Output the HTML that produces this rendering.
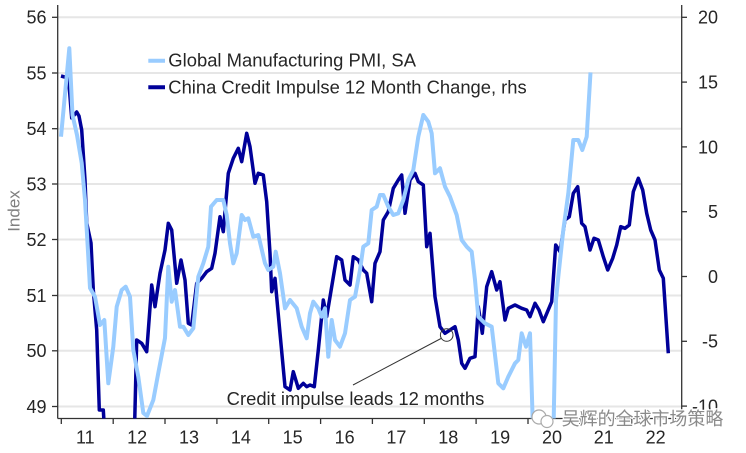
<!DOCTYPE html>
<html>
<head>
<meta charset="utf-8">
<style>
html,body{margin:0;padding:0;background:#fff;}
svg{display:block;}
text{font-family:"Liberation Sans","Noto Sans CJK SC",sans-serif;}
</style>
</head>
<body>
<svg width="746" height="453" viewBox="0 0 746 453" xmlns="http://www.w3.org/2000/svg">
<rect width="746" height="453" fill="#fff"/>
<defs>
<clipPath id="pc"><rect x="58" y="4" width="624" height="414.5"/></clipPath>
</defs>
<!-- gridlines -->
<g stroke="#e6e6e6" stroke-width="2">
<line x1="58" y1="17.3" x2="681" y2="17.3"/>
<line x1="58" y1="73" x2="681" y2="73"/>
<line x1="58" y1="128.7" x2="681" y2="128.7"/>
<line x1="58" y1="184" x2="681" y2="184"/>
<line x1="58" y1="239.5" x2="681" y2="239.5"/>
<line x1="58" y1="295.5" x2="681" y2="295.5"/>
<line x1="58" y1="350.8" x2="681" y2="350.8"/>
<line x1="58" y1="406.5" x2="681" y2="406.5"/>
</g>
<!-- axes -->
<g stroke="#333" stroke-width="1.3" fill="none">
<line x1="57.7" y1="5" x2="57.7" y2="418.5"/>
<line x1="681.7" y1="5" x2="681.7" y2="418.5"/>
<line x1="57.7" y1="418.5" x2="681.7" y2="418.5"/>
<!-- left ticks -->
<line x1="52" y1="17.3" x2="57.7" y2="17.3"/>
<line x1="52" y1="73" x2="57.7" y2="73"/>
<line x1="52" y1="128.7" x2="57.7" y2="128.7"/>
<line x1="52" y1="184" x2="57.7" y2="184"/>
<line x1="52" y1="239.5" x2="57.7" y2="239.5"/>
<line x1="52" y1="295.5" x2="57.7" y2="295.5"/>
<line x1="52" y1="350.8" x2="57.7" y2="350.8"/>
<line x1="52" y1="406.5" x2="57.7" y2="406.5"/>
<!-- right ticks -->
<line x1="681.7" y1="17.3" x2="687" y2="17.3"/>
<line x1="681.7" y1="82.1" x2="687" y2="82.1"/>
<line x1="681.7" y1="146.9" x2="687" y2="146.9"/>
<line x1="681.7" y1="211.7" x2="687" y2="211.7"/>
<line x1="681.7" y1="276.5" x2="687" y2="276.5"/>
<line x1="681.7" y1="341.3" x2="687" y2="341.3"/>
<line x1="681.7" y1="406.1" x2="687" y2="406.1"/>
<!-- x ticks -->
<line x1="61.3" y1="418.5" x2="61.3" y2="424"/>
<line x1="113.2" y1="418.5" x2="113.2" y2="424"/>
<line x1="165" y1="418.5" x2="165" y2="424"/>
<line x1="216.9" y1="418.5" x2="216.9" y2="424"/>
<line x1="268.7" y1="418.5" x2="268.7" y2="424"/>
<line x1="320.6" y1="418.5" x2="320.6" y2="424"/>
<line x1="372.4" y1="418.5" x2="372.4" y2="424"/>
<line x1="424.3" y1="418.5" x2="424.3" y2="424"/>
<line x1="476.1" y1="418.5" x2="476.1" y2="424"/>
<line x1="528" y1="418.5" x2="528" y2="424"/>
<line x1="579.8" y1="418.5" x2="579.8" y2="424"/>
<line x1="631.7" y1="418.5" x2="631.7" y2="424"/>
</g>
<!-- left labels -->
<g font-size="18" fill="#262626" text-anchor="end">
<text x="46.5" y="23.7">56</text>
<text x="46.5" y="79.4">55</text>
<text x="46.5" y="135.1">54</text>
<text x="46.5" y="190.4">53</text>
<text x="46.5" y="245.9">52</text>
<text x="46.5" y="301.9">51</text>
<text x="46.5" y="357.2">50</text>
<text x="46.5" y="412.9">49</text>
</g>
<!-- right labels -->
<g font-size="18" fill="#262626" text-anchor="end">
<text x="718" y="23.7">20</text>
<text x="718" y="88.5">15</text>
<text x="718" y="153.3">10</text>
<text x="718" y="218.1">5</text>
<text x="718" y="282.9">0</text>
<text x="718" y="347.7">-5</text>
<text x="718" y="412.5">-10</text>
</g>
<!-- x labels -->
<g font-size="18" fill="#262626" text-anchor="middle">
<text x="85.3" y="443.5">11</text>
<text x="137.2" y="443.5">12</text>
<text x="189" y="443.5">13</text>
<text x="240.9" y="443.5">14</text>
<text x="292.7" y="443.5">15</text>
<text x="344.6" y="443.5">16</text>
<text x="396.4" y="443.5">17</text>
<text x="448.3" y="443.5">18</text>
<text x="500.1" y="443.5">19</text>
<text x="552" y="443.5">20</text>
<text x="603.8" y="443.5">21</text>
<text x="655.7" y="443.5">22</text>
</g>
<!-- y axis title -->
<text transform="translate(19.5,211) rotate(-90)" font-size="17" fill="#7f7f7f" text-anchor="middle">Index</text>

<!-- series -->
<g clip-path="url(#pc)" fill="none" stroke-linejoin="round" stroke-linecap="butt">
<polyline stroke="#000099" stroke-width="3.5" points="61,76 68.5,78 71.7,118 76.7,112 79,116 81.7,130 85,180 86.7,223 91,243 93.3,290 96.7,330 99.3,410 103.3,410 104.5,430 134.5,430 136.7,340 141.7,343.3 146.7,351.7 151.7,285 155,306.7 160,273.3 165,250 168.3,223.3 171.7,230 176.7,283.3 181,260 185,280 188.3,323.3 191.7,325 196.7,283.3 201.7,278.3 206.7,271.7 211.7,268.3 215,253.3 220,216.7 223.3,231.7 228.3,173.3 233.3,158.3 238.3,148.3 241.7,161.7 246.7,133.3 250,146.7 255,183.3 258.3,173.3 263.3,175 266.7,201.7 270,253.3 271.7,291.7 275,278.3 280,333.3 285,386.7 290,390 293.3,371.7 298.3,388.3 303.3,383.3 306.7,386.7 310,385 314.3,386.7 318.3,350 323.3,300 326.7,316.7 331.7,286.7 336.7,256.7 341.7,260 345,280 350,285 353.3,256.7 358.3,260 363.3,270 366.7,273.3 371.7,301.7 375,263.3 380,251.7 383.3,220 388.3,211.7 393.3,188.3 398.3,180 401.7,175 405,213.3 410,180 415,173.3 418.3,181.7 423.3,185 426.7,246.7 430,233.3 435,296.7 440,326.7 445,333.3 450,330 455,326.7 458.3,340 461.7,363.3 465,368.3 470,358.3 475,356.7 478.3,306.7 482.3,333.3 486.7,286.7 491.7,271.7 496.7,290 500,281.7 505,320 508.3,308.3 515,305 521.7,308.3 526.7,310 530,316.7 535,303.3 539,310 543.3,321.7 551.7,301.7 555.7,245 560,251.7 565,220 569.3,216.7 573.3,193.3 577.7,186.7 581.7,223.3 585,226.7 590,250 594,238.3 598.3,240 603.3,256.7 607.7,270 612.7,258.3 616.7,245 620.7,226.7 625,228.3 629.3,225 633.3,191.7 638.3,178.3 642.7,190 646.7,213.3 650.7,230 655,240 659.3,270 663.3,278.3 668.3,353.3"/>
<polyline stroke="#99ccff" stroke-width="4" points="61,136.7 69.3,48.3 72.5,115 77,135 81.7,163 85,200 88.3,256.7 90,288 95,296.7 100,325 104.3,320 108.3,383.3 113.3,346.7 116.7,306.7 121.7,290 125.7,286.7 130,296.7 133.3,350 138.3,376.7 143.3,413 147,416 153.3,400 158.3,373 165,338 168.3,266.7 171.7,301.7 175,290 180,326.7 183.3,326.7 188.3,335 193.3,328.3 198.3,276.7 203.3,263.3 208.3,246.7 211,206.7 216.7,200 223.3,200 226.7,215 230,243.3 233.3,263.3 236.7,253.3 241.7,215 245,220 248.3,218.3 253.3,236.7 258.3,235 265,263.3 268.3,270 273.3,266.7 275.7,251.7 280,273.3 285,308.3 290,300 296.7,308.3 301.7,326.7 306.7,338.3 310,313.3 313.3,301.7 318.3,308.3 321.7,316.7 325,308.3 328.3,356.7 331.7,320 335,340 340,346.7 345,333.3 350,300 355,296.7 360,270 363.3,246.7 368.3,243.3 371.7,210 376.7,206.7 380,195 383.3,195 388.3,206.7 393.3,215 398.3,213.3 403.3,200 408.3,180 413.3,170 418.3,136.7 423.3,115 428.3,121.7 431.7,133.3 435,173.3 440,168.3 445,186.7 450,196.7 456.7,215 461.7,240 466.7,246.7 471.7,251.7 475,280 478.3,316.7 485,323.3 491.7,326.7 498.3,383.3 503.3,388.3 508.3,376.7 515,363.3 518.3,360 521.7,333.3 526,346.7 530,333.3 533.3,440 553.3,440 556,300 558.3,276.7 563.3,230 568.3,193.3 573.3,140 578.3,140 582.3,150 586.7,136.7 590.5,72.5"/>
</g>

<!-- legend -->
<line x1="148.3" y1="60.7" x2="165" y2="60.7" stroke="#99ccff" stroke-width="4"/>
<text x="168.3" y="66.7" font-size="18" fill="#262626" textLength="247.7" lengthAdjust="spacingAndGlyphs">Global Manufacturing PMI, SA</text>
<line x1="148.3" y1="87.3" x2="165" y2="87.3" stroke="#000099" stroke-width="4"/>
<text x="168.3" y="93.3" font-size="18" fill="#262626" textLength="358.4" lengthAdjust="spacingAndGlyphs">China Credit Impulse 12 Month Change, rhs</text>

<!-- annotation -->
<line x1="353" y1="385" x2="441" y2="338.5" stroke="#333" stroke-width="1"/>
<circle cx="446.7" cy="335" r="6.3" fill="none" stroke="#333" stroke-width="1"/>
<text x="226.7" y="405" font-size="18" fill="#262626" textLength="257.6" lengthAdjust="spacingAndGlyphs">Credit impulse leads 12 months</text>

<!-- watermark -->
<g stroke="#aaa" stroke-width="1.2" fill="#fff">
<circle cx="539" cy="417" r="7"/>
<circle cx="547" cy="421.5" r="6"/>
</g>
<text x="561.7" y="425" font-size="18" fill="#8a8a8a" stroke="#fff" stroke-width="2.5" paint-order="stroke" textLength="161.6" lengthAdjust="spacingAndGlyphs" style="font-family:'Noto Sans CJK SC','WenQuanYi Zen Hei',sans-serif;">吴辉的全球市场策略</text>
</svg>
</body>
</html>
